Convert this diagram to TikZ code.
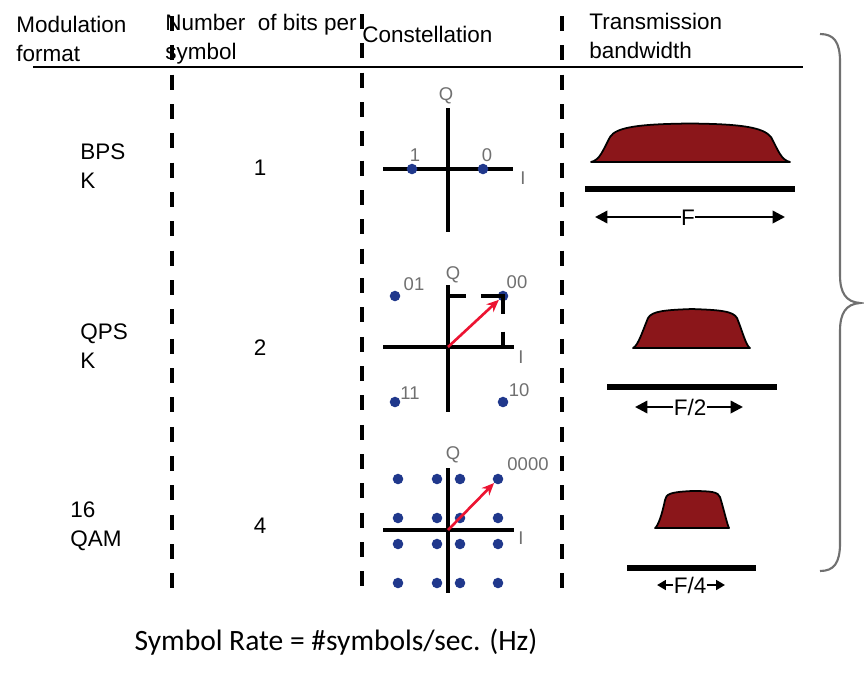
\documentclass[tikz,border=0pt]{standalone}
\usepackage{fontspec}
\setmainfont{Liberation Sans}
\newfontfamily\calibrifont{Carlito}
\usetikzlibrary{arrows.meta}
\definecolor{dotblue}{RGB}{32,56,140}
\definecolor{bwred}{RGB}{139,22,26}
\definecolor{vecred}{RGB}{236,20,50}
\definecolor{lblgray}{RGB}{112,112,112}

\begin{document}
\begin{tikzpicture}[x=0.02cm, y=-0.02cm,
    txt/.style={font=\fontsize{12.8}{16.4}\selectfont, inner sep=0pt, align=left},
    lbl/.style={font=\fontsize{10.5}{12}\selectfont, text=lblgray, inner sep=0pt},
    coldash/.style={line width=2.3pt, dash pattern=on 8.5pt off 8.2pt},
    axis/.style={line width=2.3pt},
    iqdot/.style={circle, fill=dotblue, inner sep=0pt, minimum size=6pt},
    iqvec/.style={vecred, line width=1.5pt, -{Stealth[length=7pt,width=6pt]}},
    spectrum/.style={fill=bwred, draw=black, line width=1pt, line join=round},
    bwline/.style={line width=3.4pt},
    bwarrow/.style={line width=1.4pt, -{Triangle[length=7pt,width=7pt]}}]

      \useasboundingbox (0,0) rectangle (864,680);

      % Column headers (base = baseline of the last line)
      \node[txt, anchor=base west] (hmod) at (16,61) {Modulation\\format};
      \node[txt, anchor=base west] (hbits) at (165,59) {Number~ of bits per\\symbol};
      \node[txt, anchor=base west] (hcon) at (362,42) {Constellation};
      \node[txt, anchor=base west] (hbw) at (589,58) {Transmission\\bandwidth};
      \draw[line width=1.7pt] (33,67) -- (803,67);

      % Dashed column separators
      \foreach \cx/\ylo/\yhi in {172/16/600, 362/14/590, 562/16/598}
        \draw[coldash] (\cx,\ylo) -- (\cx,\yhi);

      % Modulation formats and bits per symbol
      \node[txt, anchor=base west] (mbpsk) at (80,188) {BPS\\K};
      \node[txt, anchor=base west] (mqpsk) at (80,368) {QPS\\K};
      \node[txt, anchor=base west] (mqam) at (70,546) {16\\QAM};
      \node[txt, anchor=base] (nbpsk) at (260,175) {1};
      \node[txt, anchor=base] (nqpsk) at (260,355) {2};
      \node[txt, anchor=base] (nqam) at (260,533) {4};

      % BPSK constellation
      \coordinate (bO) at (448,169);
      \draw[axis] (383,169) -- (513,169);
      \draw[axis] (448,108) -- (448,232);
      \node[iqdot] (b1) at (412,169) {};
      \node[iqdot] (b0) at (483,169) {};
      \node[lbl] (lb1) at (415,155) {1};
      \node[lbl] (lb0) at (487,155) {0};
      \node[lbl] (lbQ) at (446,96) {Q};
      \node[lbl] (lbI) at (523,178) {I};

      % QPSK constellation
      \coordinate (qO) at (448,347);
      \draw[axis] (383,347) -- (514,347);
      \draw[axis] (448,285) -- (448,412);
      \node[iqdot] (q01) at (395,296) {};
      \node[iqdot] (q00) at (503,296) {};
      \node[iqdot] (q11) at (395,402) {};
      \node[iqdot] (q10) at (503,402) {};
      \draw[line width=2.3pt, dash pattern=on 10.2pt off 8.5pt on 22.7pt off 10.2pt on 8.5pt]
        (qO |- q00) -- (q00.center) -- (q00 |- qO);
      \draw[iqvec] (qO) -- (q00);
      \node[lbl] (lq01) at (414,284) {01};
      \node[lbl] (lq00) at (517,282) {00};
      \node[lbl] (lq11) at (410,393) {11};
      \node[lbl] (lq10) at (519,390) {10};
      \node[lbl] (lqQ) at (453,275) {Q};
      \node[lbl] (lqI) at (521,357) {I};

      % 16QAM constellation
      \coordinate (mO) at (448,530);
      \foreach \cx in {398,437,460,498}
        \foreach \cy in {479,518,544,583}
          \node[iqdot] (m-\cx-\cy) at (\cx,\cy) {};
      \draw[axis] (383,530) -- (514,530);
      \draw[axis] (448,468) -- (448,593);
      \draw[iqvec] (mO) -- (m-498-479);
      \node[lbl] (lmQ) at (453,455) {Q};
      \node[lbl] (lm0) at (528,464) {0000};
      \node[lbl] (lmI) at (521,538) {I};

      % Transmission bandwidth, full rate
      \draw[spectrum] (591,162) .. controls (600,160) and (603,150) .. (610,137)
        .. controls (616,127) and (640,124) .. (690,123.5)
        .. controls (740,124) and (763,127) .. (771,137)
        .. controls (778,150) and (781,160) .. (790,162) -- cycle;
      \draw[bwline] (585,189) -- (795,189);
      \node[txt] (bwF) at (688,218) {F};
      \coordinate (bwFl) at (595,217);
      \coordinate (bwFr) at (785,217);
      \draw[bwarrow] (bwF.west |- bwFl) -- (bwFl);
      \draw[bwarrow] (bwF.east |- bwFr) -- (bwFr);

      % Transmission bandwidth, half rate
      \draw[spectrum] (633,348) .. controls (638,346) and (643,330) .. (648,318)
        .. controls (652,311) and (665,310) .. (692,309)
        .. controls (720,310) and (733,311) .. (737,318)
        .. controls (742,330) and (746,346) .. (750,348) -- cycle;
      \draw[bwline] (607,387) -- (777,387);
      \node[txt] (bwH) at (690,407) {F/2};
      \coordinate (bwHl) at (635,407);
      \coordinate (bwHr) at (743,407);
      \draw[bwarrow] (bwH.west) -- (bwHl);
      \draw[bwarrow] (bwH.east) -- (bwHr);

      % Transmission bandwidth, quarter rate
      \draw[spectrum] (655,528) .. controls (658,526) and (662,515) .. (665,500)
        .. controls (666,494) and (670,492) .. (692,491)
        .. controls (712,491) and (718,492) .. (720,497)
        .. controls (724,510) and (727,524) .. (729,528) -- cycle;
      \draw[bwline] (627,568) -- (756,568);
      \node[txt] (bwQ) at (690,585) {F/4};
      \coordinate (bwQl) at (657,585);
      \coordinate (bwQr) at (725,585);
      \draw[bwarrow, -{Triangle[length=5pt,width=5.5pt]}] (bwQ.west) -- (bwQl);
      \draw[bwarrow, -{Triangle[length=5pt,width=5.5pt]}] (bwQ.east) -- (bwQr);

      % Brace on the right
      \draw[lblgray, line width=1.2pt] (820,34) .. controls (834,34) and (840,42) .. (840,62)
        -- (840,275) .. controls (840,293) and (846,302) .. (860,303)
        .. controls (846,304) and (840,313) .. (840,331)
        -- (840,543) .. controls (840,563) and (834,571) .. (820,571);

      % Symbol rate
      \node[font=\calibrifont\fontsize{16.8}{20}\selectfont, inner sep=0pt] (rate) at (336,642)
        {Symbol Rate = \#symbols/sec. (Hz)};
    \end{tikzpicture}
\end{document}
